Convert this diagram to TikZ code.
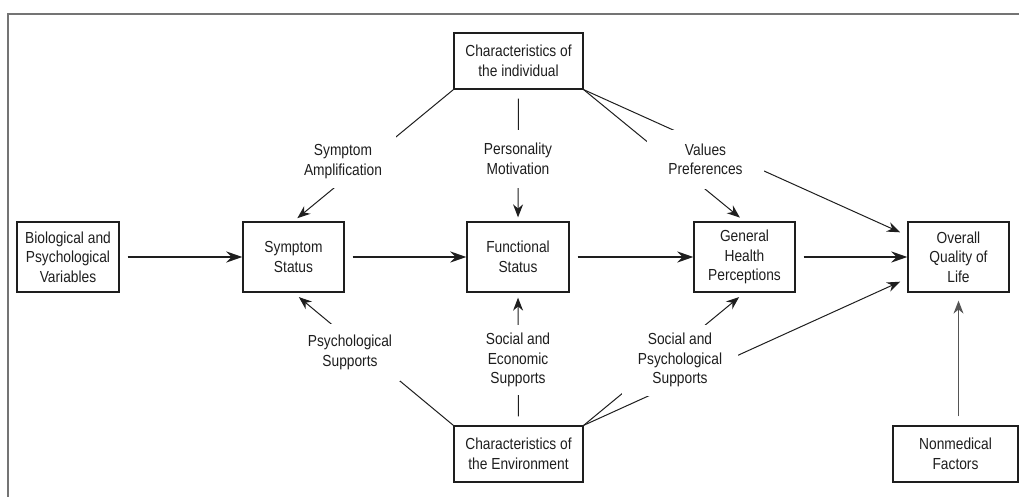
\documentclass[tikz,border=0pt]{standalone}
\usepackage{fontspec}
\setmainfont{Liberation Sans}[FakeStretch=0.86]
\usetikzlibrary{arrows.meta,calc}
\definecolor{ink}{HTML}{1E1E1E}
\definecolor{framegray}{HTML}{747474}
\definecolor{softgray}{HTML}{555555}
\begin{document}
\begin{tikzpicture}[x=1pt,y=-1pt,
  every node/.style={font=\fontsize{16}{19.5}\selectfont, text=ink},
  box/.style={draw=ink, line width=1.3pt, align=center, inner sep=0pt,
              minimum width=101pt, minimum height=70pt},
  widebox/.style={box, minimum width=129pt, minimum height=56pt},
  lbl/.style={fill=white, align=center, inner sep=0pt},
  mainarrow/.style={draw=ink, line width=2.3pt, shorten <=8pt,
                    -{Stealth[length=16pt,width=11pt]}},
  infl/.style={draw=ink, line width=1pt,
               -{Stealth[length=13pt,width=10pt]}}]
\useasboundingbox (0,0) rectangle (1019,497);

% outer frame (top and left edges only)
\draw[framegray, line width=2pt] (8,497) -- (8,14.5) -- (1019,14.5);

% boxes
\node[widebox] (ind) at (518.5,61) {Characteristics of\\the individual};
\node[box, minimum width=102pt] (bio) at (68,257) {Biological and\\Psychological\\Variables};
\node[box] (sym) at (293.5,257) {Symptom\\Status};
\node[box, minimum width=102pt] (func) at (518,257) {Functional\\Status};
\node[box] (ghp) at (744.5,257) {General\\Health\\Perceptions};
\node[box] (qol) at (958.5,257) {Overall\\Quality of\\Life};
\node[widebox] (env) at (518.5,454) {Characteristics of\\the Environment};
\node[widebox, minimum width=125pt] (nm) at (955.5,454) {Nonmedical\\Factors};

\coordinate (qolA) at ($(qol.north west)!0.2!(qol.south west)$);
\coordinate (qolB) at ($(qol.north west)!0.8!(qol.south west)$);

% main causal chain
\draw[mainarrow] (bio) -- (sym);
\draw[mainarrow] (sym) -- (func);
\draw[mainarrow] (func) -- (ghp);
\draw[mainarrow] (ghp) -- (qol);

% influences of the individual
\draw[infl, shorten >=5pt] (ind.south west) -- (sym.north);
\draw[infl, shorten <=9pt, shorten >=4pt] (ind.south) -- (func.north);
\draw[infl, shorten >=6pt] (ind.south east) -- (ghp.north);
\draw[infl, shorten >=8pt] (ind.south east) -- (qolA);

% influences of the environment
\draw[infl, shorten >=7pt] (env.north west) -- (sym.south);
\draw[infl, shorten <=9pt, shorten >=5pt] (env.north) -- (func.south);
\draw[infl, shorten >=7pt] (env.north east) -- (ghp.south);
\draw[infl, shorten >=8pt] (env.north east) -- (qolB);

% nonmedical factors
\draw[infl, draw=softgray, line width=1.1pt, shorten <=9pt, shorten >=8pt]
  (nm.north -| qol.south) -- (qol.south);

% labels set over the connectors
\node[lbl, minimum width=106pt, minimum height=53pt] (lamp) at (343,161.5) {Symptom\\Amplification};
\node[lbl, minimum width=90pt, minimum height=58pt] (lper) at (518,159) {Personality\\Motivation};
\node[lbl, minimum width=117pt, minimum height=59pt] (lval) at (705.5,159.5) {Values\\Preferences};
\node[lbl, minimum width=100pt, minimum height=57pt] (lpsy) at (350,352.5) {Psychological\\Supports};
\node[lbl, minimum width=90pt, minimum height=70pt] (lsoe) at (518,360) {Social and\\Economic\\Supports};
\node[lbl, minimum width=116pt, minimum height=71pt] (lsps) at (680,360) {Social and\\Psychological\\Supports};
\end{tikzpicture}
\end{document}
